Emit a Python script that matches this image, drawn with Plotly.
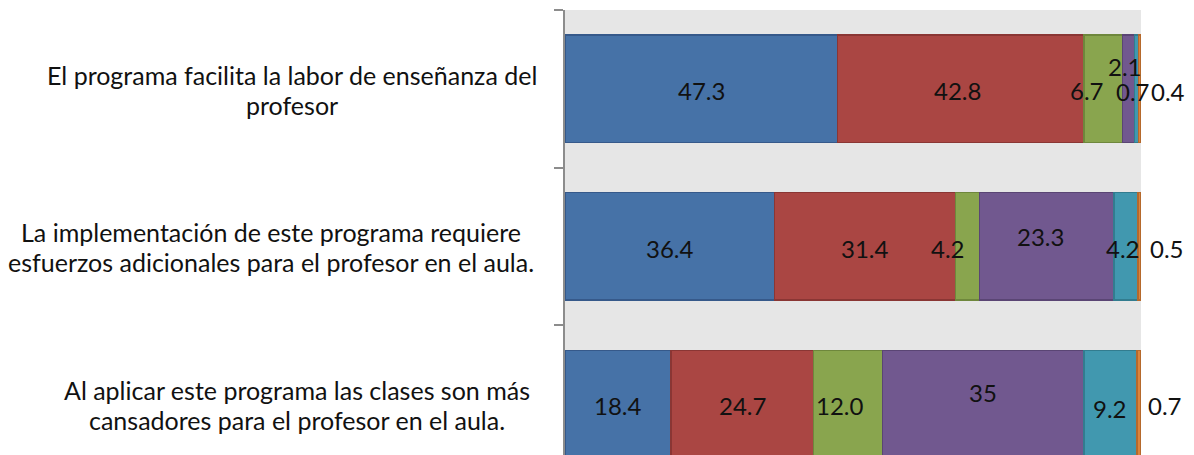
import plotly.graph_objects as go

# Survey statements (top to bottom)
categories = [
    "El programa facilita la labor de enseñanza del<br>profesor",
    "La implementación de este programa requiere<br>esfuerzos adicionales para el profesor en el aula.",
    "Al aplicar este programa las clases son más<br>cansadores para el profesor en el aula.",
]
cat_keys = ["c1", "c2", "c3"]

# Percentages per response group, as printed on the bars
serie_1 = ["47.3", "36.4", "18.4"]
serie_2 = ["42.8", "31.4", "24.7"]
serie_3 = ["6.7", "4.2", "12.0"]
serie_4 = ["2.1", "23.3", "35"]
serie_5 = ["0.7", "4.2", "9.2"]
serie_6 = ["0.4", "0.5", "0.7"]

series = [serie_1, serie_2, serie_3, serie_4, serie_5, serie_6]
fills = ["#4672A7", "#AA4643", "#89A54E", "#71588F", "#4198AF", "#DB843D"]
edges = ["#36598A", "#8A3634", "#6E873C", "#5A4574", "#327C8F", "#B5692C"]

# Nudges (px) for labels that would otherwise collide, keyed by (row, series)
label_nudge = {
    (0, 1): (-3, 0), (0, 2): (-16, 0), (0, 3): (-4, 24), (0, 4): (-4, -1), (0, 5): (28, -1),
    (1, 2): (-20, 0), (1, 3): (-6, 12), (1, 4): (-3, 0), (1, 5): (27, 0),
    (2, 2): (-8, 0), (2, 3): (0, 13), (2, 4): (0, -3), (2, 5): (26, 0),
}

fig = go.Figure()
for s, (vals, fc, ec) in enumerate(zip(series, fills, edges)):
    fig.add_trace(go.Bar(
        y=cat_keys, x=[float(v) for v in vals], orientation="h",
        marker=dict(color=fc, line=dict(color=ec, width=1.5)),
        showlegend=False, hoverinfo="skip",
    ))

annotations = []
cum = [0.0, 0.0, 0.0]
for s, vals in enumerate(series):
    for r, v in enumerate(vals):
        val = float(v)
        mid = cum[r] + val / 2
        cum[r] += val
        dx, dy = label_nudge.get((r, s), (0, 0))
        annotations.append(dict(
            x=mid, y=cat_keys[r], xref="x", yref="y", text=v, showarrow=False,
            xanchor="center", yanchor="middle", xshift=dx, yshift=dy - 2,
            font=dict(family="Lato", size=24, color="#111111"),
        ))

# Category labels: each line centred, two lines per statement left of the axis
label_x = [292, 271, 297]
line_gap = 30
for r, txt in enumerate(categories):
    lines = txt.split("<br>")
    n = len(lines)
    for i, line in enumerate(lines):
        annotations.append(dict(
            x=(label_x[r] - 565) / 576, xref="paper", y=cat_keys[r], yref="y",
            text=line, showarrow=False, xanchor="center", yanchor="middle",
            yshift=((n - 1) / 2 - i) * line_gap - 1,
            font=dict(family="Lato", size=25, color="#111111"),
        ))

fig.update_layout(
    barmode="stack", bargap=0.32,
    width=1194, height=455,
    margin=dict(l=565, r=53, t=10, b=0),
    paper_bgcolor="white", plot_bgcolor="#E6E6E6",
    annotations=annotations,
    xaxis=dict(range=[0, 100], visible=False, showgrid=False, zeroline=False),
    yaxis=dict(
        type="category", categoryorder="array", categoryarray=cat_keys,
        range=[2.325, -0.5], showticklabels=False, showgrid=False, zeroline=False,
        showline=True, linecolor="#8C8C8C", linewidth=2,
        ticks="outside", tickson="boundaries", ticklen=9, tickcolor="#8C8C8C", tickwidth=2,
    ),
)

fig.write_html("out.html")
